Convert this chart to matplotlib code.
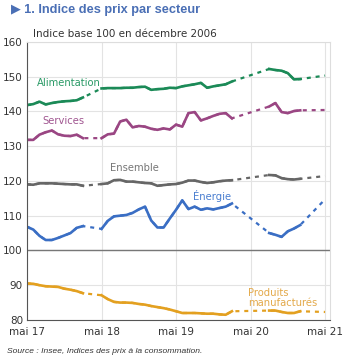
import numpy as np
import matplotlib
matplotlib.use("Agg")
import matplotlib.pyplot as plt
from matplotlib import font_manager

nan = np.nan
months = np.arange(49)
tick_pos = [0, 12, 24, 36, 48]
tick_labels = ["mai 17", "mai 18", "mai 19", "mai 20", "mai 21"]

alimentation = [141.8, 142.1, 142.8, 142.0, 142.4, 142.7, 142.9, 143.0, 143.2, 144.0, nan, nan,
                146.6, 146.7, 146.7, 146.7, 146.8, 146.8, 147.0, 147.1, 146.2, 146.4, 146.5, 146.8,
                146.7, 147.2, 147.5, 147.8, 148.2, 146.8, 147.2, 147.5, 147.8, 148.6, nan, nan,
                nan, nan, nan, 152.2, 151.9, 151.7, 151.0, 149.2, 149.3, nan, nan, nan, 150.3]
services = [131.8, 131.8, 133.3, 134.0, 134.5, 133.4, 133.0, 132.9, 133.3, 132.3, nan, nan,
            132.3, 133.4, 133.6, 137.1, 137.6, 135.4, 135.8, 135.6, 135.0, 134.7, 135.1, 134.8,
            136.2, 135.6, 139.5, 139.8, 137.4, 138.0, 138.7, 139.3, 139.5, 138.0, nan, nan,
            nan, nan, nan, 141.4, 142.4, 139.8, 139.5, 140.1, 140.3, nan, nan, nan, 140.4]
ensemble = [119.0, 118.9, 119.3, 119.3, 119.3, 119.2, 119.1, 119.0, 119.0, 118.6, nan, nan,
            119.1, 119.3, 120.2, 120.3, 119.8, 119.8, 119.6, 119.4, 119.3, 118.6, 118.8, 119.0,
            119.1, 119.5, 120.1, 120.1, 119.7, 119.4, 119.6, 119.9, 120.1, 120.2, nan, nan,
            nan, nan, nan, 121.7, 121.6, 120.8, 120.5, 120.4, 120.6, nan, nan, nan, 121.4]
energie = [106.8, 106.0, 104.2, 103.0, 103.0, 103.6, 104.3, 105.0, 106.5, 107.0, nan, nan,
           106.2, 108.5, 109.8, 110.0, 110.2, 110.8, 111.8, 112.6, 108.6, 106.6, 106.6, 109.2,
           111.7, 114.4, 111.9, 112.6, 111.7, 112.1, 111.8, 112.2, 112.6, 113.5, nan, nan,
           nan, nan, nan, 105.0, 104.5, 103.9, 105.5, 106.3, 107.3, nan, nan, nan, 114.7]
manufactures = [90.5, 90.4, 90.0, 89.7, 89.6, 89.5, 89.0, 88.7, 88.3, 87.7, nan, nan,
                87.1, 86.0, 85.2, 85.0, 85.0, 84.9, 84.6, 84.4, 84.0, 83.7, 83.4, 83.0,
                82.5, 82.0, 82.0, 82.0, 81.9, 81.8, 81.8, 81.6, 81.5, 82.5, nan, nan,
                nan, nan, nan, 82.7, 82.7, 82.3, 82.0, 82.0, 82.5, nan, nan, nan, 82.3]

series = [
    ("Alimentation", alimentation, "#1b8a57"),
    ("Services", services, "#9a4683"),
    ("Ensemble", ensemble, "#666666"),
    ("Énergie", energie, "#3a6ec4"),
    ("Produits\nmanufacturés", manufactures, "#e3a020"),
]

installed = {f.name for f in font_manager.fontManager.ttflist}
narrow = "Liberation Sans Narrow" if "Liberation Sans Narrow" in installed else "Liberation Sans"

fig = plt.figure(figsize=(3.56, 3.64), dpi=100)
ax = fig.add_axes([0.076, 0.121, 0.851, 0.764])

for name, vals, col in series:
    v = np.array(vals, dtype=float)
    ok = ~np.isnan(v)
    ax.plot(months[ok], v[ok], color=col, lw=1.6, ls=(0, (1.8, 2.2)), solid_capstyle="butt")
    ax.plot(months, v, color=col, lw=1.9, solid_joinstyle="round")

ax.set_xlim(0, 48.8)
ax.set_ylim(80, 160)
ax.set_yticks(range(80, 161, 10))
ax.set_xticks(tick_pos)
ax.set_xticklabels(tick_labels)
ax.grid(True, color="#e3e3e3", lw=0.8)
ax.set_axisbelow(True)
ax.axhline(100, color="#777777", lw=1.0, zorder=1)
for s in ["top", "right"]:
    ax.spines[s].set_color("#dddddd")
    ax.spines[s].set_linewidth(0.8)
ax.spines["left"].set_color("#555555")
ax.spines["bottom"].set_color("#555555")
ax.tick_params(axis="both", length=0, labelsize=7.5, colors="#333333", pad=3)
ax.tick_params(axis="x", pad=5)

lab_kw = dict(fontsize=7.2, ha="left", va="center")
ax.text(1.6, 148.2, "Alimentation", color="#2a9a66", **lab_kw)
ax.text(2.4, 137.2, "Services", color="#a05590", **lab_kw)
ax.text(13.4, 123.6, "Ensemble", color="#777777", **lab_kw)
ax.text(26.8, 115.8, "Énergie", color="#4a7ed0", **lab_kw)
ax.text(35.6, 86.3, "Produits\nmanufacturés", color="#e3a94a", fontsize=7.2,
        ha="left", va="center", linespacing=1.05)

fig.text(0.03, 0.972, "▶ 1. Indice des prix par secteur", color="#4a6fb5",
         fontsize=9.2, fontweight="bold", ha="left", va="center",
         family=[narrow, "DejaVu Sans"])
fig.text(0.093, 0.906, "Indice base 100 en décembre 2006", color="#333333",
         fontsize=7.5, ha="left", va="center")
fig.text(0.02, 0.033, "Source : Insee, Indices des prix à la consommation.", color="#333333",
         fontsize=6.1, style="italic", ha="left", va="center",
         family=[narrow, "DejaVu Sans"])

fig.savefig("out.png", dpi=100)
